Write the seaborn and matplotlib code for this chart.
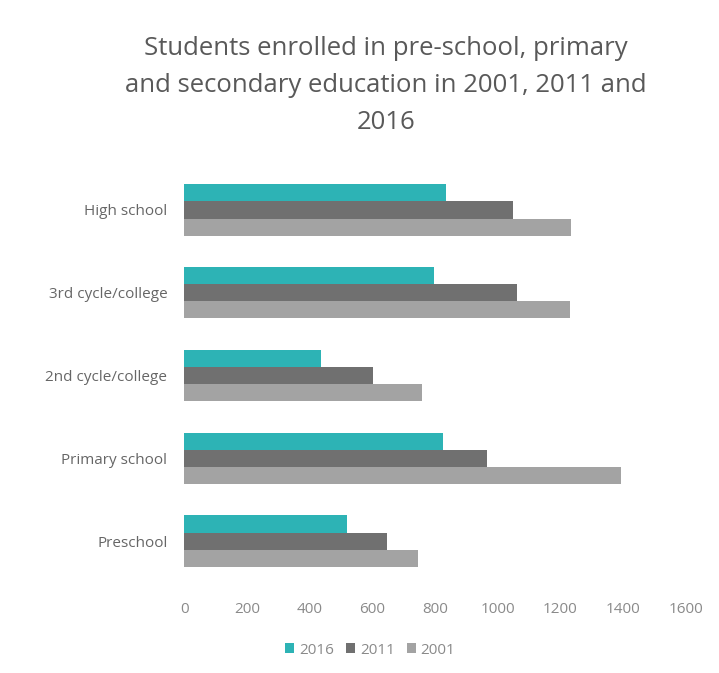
import pandas as pd
import matplotlib
matplotlib.use("Agg")
import matplotlib.pyplot as plt
import seaborn as sns


# Values
levels = ['High school', '3rd cycle/college', '2nd cycle/college', 'Primary school', 'Preschool']
years = ['2016', '2011', '2001']
students_2016 = [834, 796, 438, 825, 518]
students_2011 = [1048, 1062, 602, 967, 646]
students_2001 = [1234, 1231, 760, 1392, 745]
colors = ['#2db3b5', '#707070', '#a3a3a3']
xticks = [0, 200, 400, 600, 800, 1000, 1200, 1400, 1600]


# Build a long table for seaborn
def build_frame():
    rows = []
    for year, vals in zip(years, [students_2016, students_2011, students_2001]):
        for lvl, v in zip(levels, vals):
            rows.append({'level': lvl, 'year': year, 'students': v})
    return pd.DataFrame(rows)


def plot_chart(df):
    sns.set_style('white')
    plt.rcParams['font.family'] = ['Open Sans', 'DejaVu Sans']

    fig = plt.figure(figsize=(7.19, 6.73), dpi=100)
    ax = fig.add_axes([0.256, 0.1345, 0.698, 0.615])

    sns.barplot(data=df, x='students', y='level', hue='year', order=levels,
                hue_order=years, palette=colors, width=0.62, orient='h',
                saturation=1, linewidth=0, ax=ax, legend=True)

    ax.set_xlim(0, 1600)
    ax.set_ylim(4.5, -0.5)
    ax.set_xticks(xticks)
    ax.set_xticklabels([str(t) for t in xticks])
    ax.set_xlabel('')
    ax.set_ylabel('')
    ax.tick_params(axis='x', colors='#8a8a8a', labelsize=11, length=0, pad=14)
    ax.tick_params(axis='y', colors='#666666', labelsize=11, length=0, pad=12)
    for sp in ax.spines.values():
        sp.set_visible(False)

    handles, labels = ax.get_legend_handles_labels()
    ax.get_legend().remove()
    fig.legend(handles, labels, loc='center', bbox_to_anchor=(0.515, 0.034),
               ncol=3, frameon=False, fontsize=11, handlelength=0.6,
               handleheight=0.6, handletextpad=0.3, columnspacing=0.8,
               labelcolor='#8a8a8a')

    fig.text(0.537, 0.873,
             'Students enrolled in pre-school, primary\nand secondary education in 2001, 2011 and\n2016',
             ha='center', va='center', fontsize=18.5, color='#595959',
             linespacing=1.65)

    fig.savefig('out.png', dpi=100, facecolor='white')
    plt.close(fig)


if __name__ == "__main__":
    df = build_frame()
    plot_chart(df)
